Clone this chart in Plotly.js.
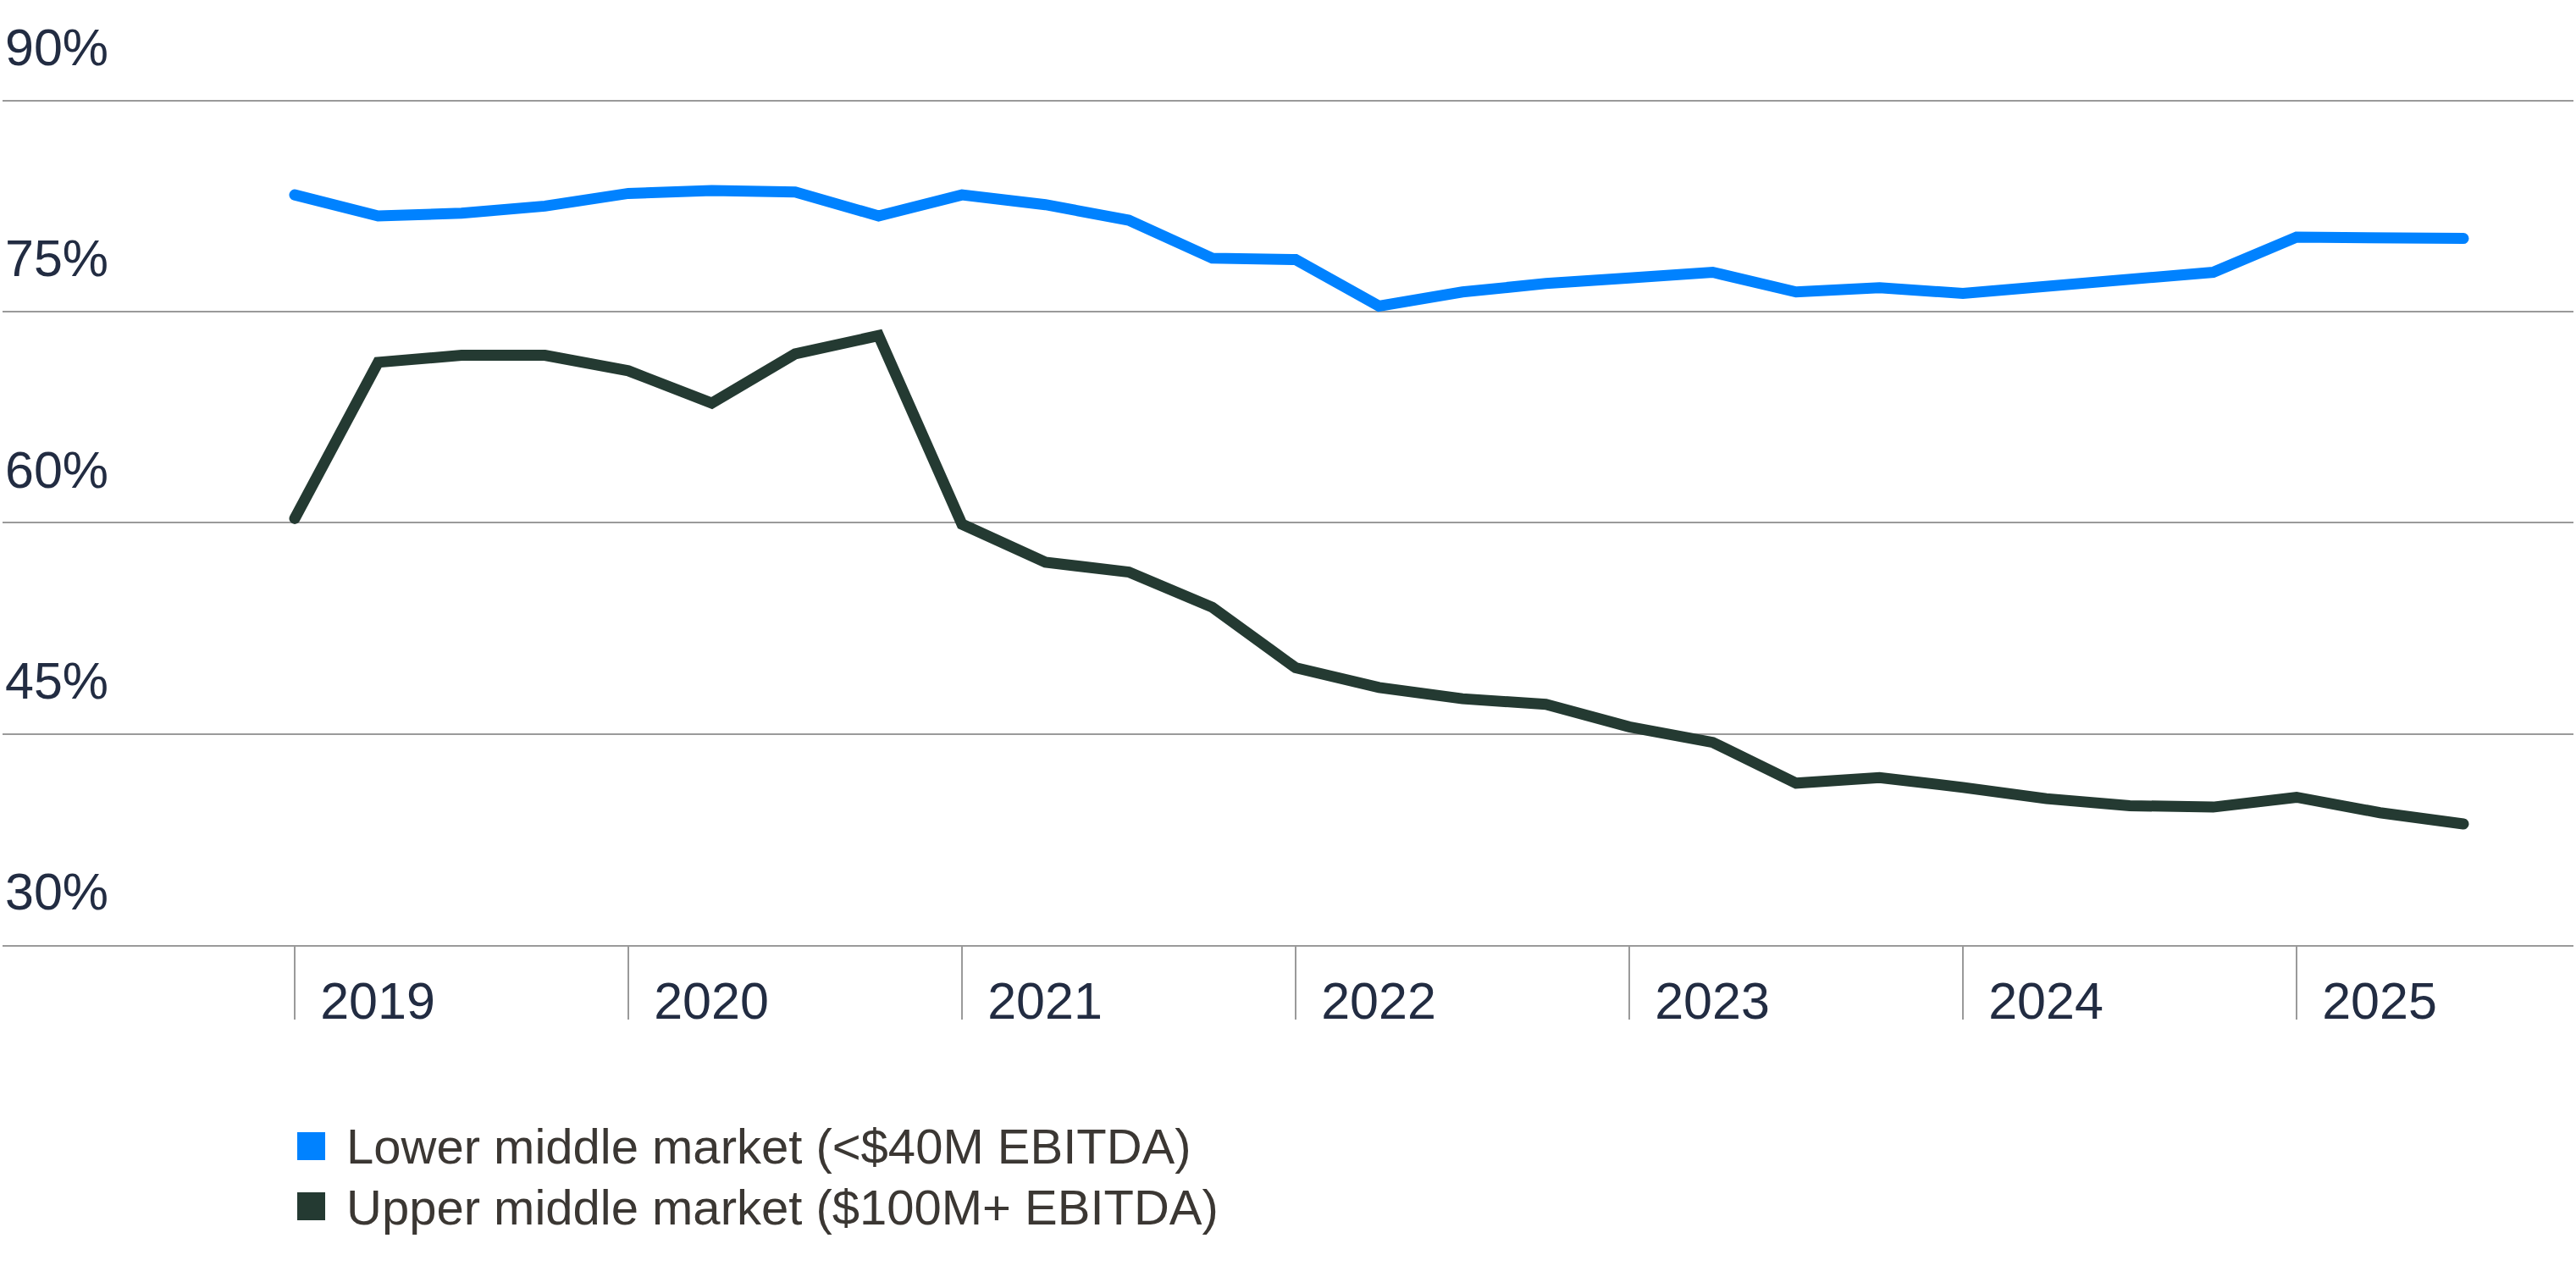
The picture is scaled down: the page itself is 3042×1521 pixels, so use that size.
<!DOCTYPE html>
<html>
<head>
<meta charset="utf-8">
<script src="https://cdn.plot.ly/plotly-3.0.1.min.js"></script>
<style>
html,body{margin:0;padding:0;background:#ffffff;}
#chart{width:3042px;height:1521px;}
#chart .scatterlayer .js-line{stroke-linecap:round !important;}
</style>
</head>
<body>
<div id="chart"></div>
<script>
// ---- data ----
const quarters = [
  '2019 Q1','2019 Q2','2019 Q3','2019 Q4',
  '2020 Q1','2020 Q2','2020 Q3','2020 Q4',
  '2021 Q1','2021 Q2','2021 Q3','2021 Q4',
  '2022 Q1','2022 Q2','2022 Q3','2022 Q4',
  '2023 Q1','2023 Q2','2023 Q3','2023 Q4',
  '2024 Q1','2024 Q2','2024 Q3','2024 Q4',
  '2025 Q1','2025 Q2','2025 Q3'
];
const lowerMiddleMarket = [
  83.3, 81.8, 82.0, 82.5,
  83.4, 83.6, 83.5, 81.8,
  83.3, 82.6, 81.5, 78.8,
  78.7, 75.4, 76.4, 77.0,
  77.4, 77.8, 76.4, 76.7,
  76.3, 76.8, 77.3, 77.8,
  80.3, 80.2, 80.2
];
const upperMiddleMarket = [
  60.3, 71.4, 71.9, 71.9,
  70.8, 68.5, 72.0, 73.3,
  59.9, 57.2, 56.5, 54.0,
  49.7, 48.3, 47.5, 47.1,
  45.5, 44.4, 41.5, 41.9,
  41.2, 40.4, 39.9, 39.8,
  40.5, 39.4, 38.6
];
const yearTicks = [2019, 2020, 2021, 2022, 2023, 2024, 2025];
const yearLabels = ['2019', '2020', '2021', '2022', '2023', '2024', '2025'];
const pctTicks = [30, 45, 60, 75, 90];
const pctLabels = ['30%', '45%', '60%', '75%', '90%'];
const seriesNames = ['Lower middle market (&lt;$40M EBITDA)', 'Upper middle market ($100M+ EBITDA)'];
const seriesColors = ['#0082ff', '#243a32'];

// ---- layout geometry ----
const W = 3042, H = 1521;
const M = {l: 3, r: 3, t: 19, b: 405, pad: 0};
const plotW = W - M.l - M.r;
const plotH = H - M.t - M.b;
const firstYearPx = 348, yearPx = 394;
const xRange = [2019 - (firstYearPx - M.l) / yearPx, 2019 + (W - M.r - firstYearPx) / yearPx];
const yRange = [30, 96];
const px2paperX = px => (px - M.l) / plotW;
const px2paperY = py => (H - M.b - py) / plotH;

const xPos = quarters.map(q => {
  const parts = q.split(' Q');
  return Number(parts[0]) + (Number(parts[1]) - 1) / 4;
});

const gridColor = '#9a9a9a';
const tickFont = {family: 'Liberation Sans, Arial, sans-serif', size: 61, color: '#222c42'};
const legendFont = {family: 'Liberation Sans, Arial, sans-serif', size: 58, color: '#3b3733'};

const traces = [lowerMiddleMarket, upperMiddleMarket].map((vals, i) => ({
  type: 'scatter',
  mode: 'lines',
  x: xPos,
  y: vals,
  name: seriesNames[i],
  line: {color: seriesColors[i], width: 13},
  showlegend: false,
  hoverinfo: 'skip'
}));

const legendRows = [{sq: [1337, 1370], text: 1353}, {sq: [1408, 1441], text: 1425}];
const shapes = legendRows.map((r, i) => ({
  type: 'rect', xref: 'paper', yref: 'paper',
  x0: px2paperX(351), x1: px2paperX(384),
  y0: px2paperY(r.sq[1]), y1: px2paperY(r.sq[0]),
  fillcolor: seriesColors[i], line: {width: 0}
}));
const annotations = legendRows.map((r, i) => ({
  xref: 'paper', yref: 'paper',
  x: px2paperX(407), y: px2paperY(r.text),
  xanchor: 'left', yanchor: 'middle',
  text: seriesNames[i], showarrow: false,
  font: legendFont
}));

const layout = {
  width: W, height: H,
  margin: M,
  paper_bgcolor: '#ffffff',
  plot_bgcolor: '#ffffff',
  showlegend: false,
  xaxis: {
    type: 'linear',
    range: xRange,
    tickmode: 'array',
    tickvals: yearTicks,
    ticktext: yearLabels,
    ticks: 'outside',
    ticklen: 86,
    tickwidth: 2,
    tickcolor: gridColor,
    showgrid: false,
    zeroline: false,
    showline: true,
    linecolor: gridColor,
    linewidth: 2,
    tickfont: tickFont,
    ticklabelshift: 98,
    ticklabelstandoff: -74,
    fixedrange: true
  },
  yaxis: {
    range: yRange,
    tickmode: 'array',
    tickvals: pctTicks,
    ticktext: pctLabels,
    ticks: '',
    showgrid: true,
    gridcolor: gridColor,
    gridwidth: 2,
    zeroline: false,
    showline: false,
    ticklabelposition: 'inside',
    ticklabelshift: -63,
    tickfont: tickFont,
    fixedrange: true
  },
  shapes: shapes,
  annotations: annotations
};

Plotly.newPlot('chart', traces, layout, {staticPlot: true, displayModeBar: false});
</script>
</body>
</html>
